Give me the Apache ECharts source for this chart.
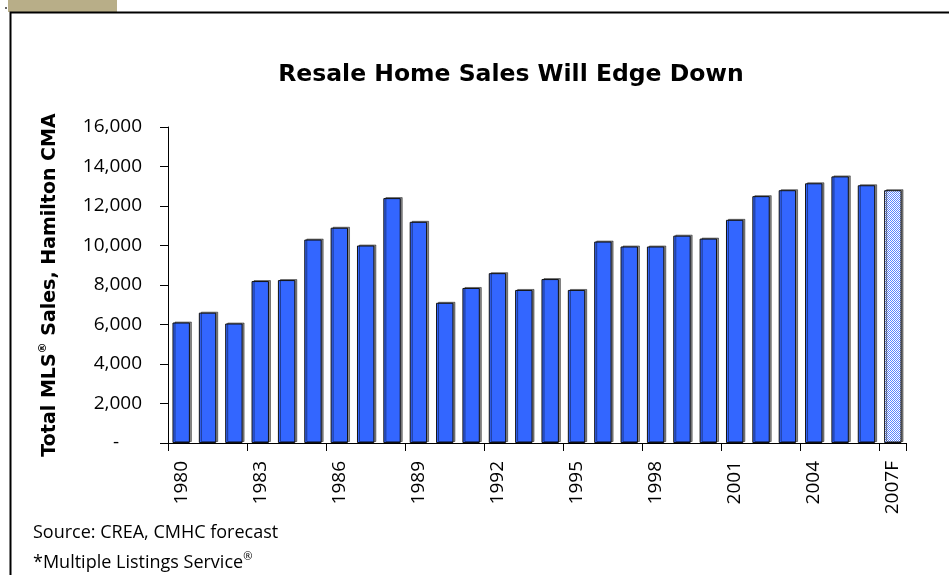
<!DOCTYPE html>
<html>
<head>
<meta charset="utf-8">
<script src="https://cdn.jsdelivr.net/npm/echarts@6/dist/echarts.min.js"></script>
<style>
html,body{margin:0;padding:0;background:#fff;}
#chart{width:949px;height:575px;}
</style>
</head>
<body>
<div id="chart"></div>
<script>
var years = ['1980','1981','1982','1983','1984','1985','1986','1987','1988','1989','1990','1991','1992','1993','1994','1995','1996','1997','1998','1999','2000','2001','2002','2003','2004','2005','2006','2007F'];
var sales = [6100,6600,6050,8200,8250,10300,10900,10000,12400,11200,7100,7850,8600,7750,8300,7750,10200,9950,9950,10500,10350,11300,12500,12800,13150,13500,13050,12800];
var yTicks = [0,2000,4000,6000,8000,10000,12000,14000,16000];
var forecastLabel = '2007F';
var titleText = 'Resale Home Sales Will Edge Down';
var sourceLines = ['Source: CREA, CMHC forecast', '*Multiple Listings Service'];

var FONT = '"Open Sans", Lato, sans-serif';
var BOLD = '"DejaVu Sans", "Open Sans", sans-serif';

// checker pattern for forecast bar
var pc = document.createElement('canvas');
pc.width = 2; pc.height = 2;
var pctx = pc.getContext('2d');
pctx.fillStyle = '#ffffff'; pctx.fillRect(0,0,2,2);
pctx.fillStyle = '#5b84ff'; pctx.fillRect(0,0,1,1); pctx.fillRect(1,1,1,1);

var barData = sales.map(function (v, i) {
  if (years[i] === forecastLabel) {
    return { value: v, itemStyle: { color: { image: pc, repeat: 'repeat' }, borderColor: '#111' } };
  }
  return v;
});

var chart = echarts.init(document.getElementById('chart'), null, {renderer: 'canvas'});
chart.setOption({
  animation: false,
  backgroundColor: '#fff',
  title: {
    text: titleText,
    left: 506, top: 58, textAlign: 'center',
    textStyle: { fontFamily: BOLD, fontWeight: 'bold', fontSize: 23.5, color: '#000' }
  },
  grid: { left: 168, right: 43, top: 127, bottom: 132, containLabel: false },
  xAxis: {
    type: 'category',
    data: years,
    boundaryGap: true,
    axisLine: { lineStyle: { color: '#000', width: 1 } },
    axisTick: { show: true, interval: 2, length: 8, lineStyle: { color: '#000' } },
    axisLabel: { interval: 2, rotate: 90, margin: 18, fontFamily: FONT, fontSize: 19, color: '#000' }
  },
  yAxis: {
    type: 'value',
    min: yTicks[0], max: yTicks[yTicks.length-1], interval: 2000,
    splitLine: { show: false },
    axisLine: { show: true, lineStyle: { color: '#000', width: 1 } },
    axisTick: { show: true, length: 8, lineStyle: { color: '#000' } },
    axisLabel: {
      margin: 26, fontFamily: FONT, fontSize: 19, color: '#000',
      formatter: function (v) { return v === 0 ? '{z|-}' : v.toLocaleString('en-US'); },
      rich: { z: { fontFamily: FONT, fontSize: 19, color: '#000', padding: [0, 23, 0, 0] } }
    },
    name: '{n|Total MLS}{s|®}{n| Sales, Hamilton CMA}',
    nameLocation: 'middle',
    nameGap: 106,
    nameTextStyle: {
      rich: {
        n: { fontFamily: BOLD, fontWeight: 'bold', fontSize: 19, color: '#000', lineHeight: 24 },
        s: { fontFamily: BOLD, fontWeight: 'bold', fontSize: 11, color: '#000', verticalAlign: 'top', lineHeight: 24 }
      }
    }
  },
  series: [{
    type: 'bar',
    data: barData,
    barCategoryGap: '34%',
    itemStyle: {
      color: '#3366ff',
      borderColor: '#111',
      borderWidth: 1,
      shadowColor: 'rgba(0,0,0,0.45)',
      shadowOffsetX: 2,
      shadowOffsetY: -1,
      shadowBlur: 0
    }
  }],
  graphic: [
    { type: 'rect', shape: { x: 8, y: 0, width: 109, height: 12 }, style: { fill: '#b8ae88' }, silent: true },
    { type: 'rect', shape: { x: 5, y: 7, width: 2, height: 2 }, style: { fill: '#666' }, silent: true },
    { type: 'rect', shape: { x: 10.5, y: 12.5, width: 1200, height: 1200 }, style: { fill: 'none', stroke: '#000', lineWidth: 2 }, silent: true },
    { type: 'text', left: 33, top: 524, style: { text: sourceLines[0], fontFamily: FONT, fontSize: 18, fill: '#000' } },
    { type: 'text', left: 33, top: 551, style: {
        text: '{n|' + sourceLines[1] + '}{s|®}',
        rich: {
          n: { fontFamily: FONT, fontSize: 18, fill: '#000', lineHeight: 24 },
          s: { fontFamily: FONT, fontSize: 11, fill: '#000', verticalAlign: 'top', lineHeight: 24 }
        }
      } }
  ]
});
</script>
</body>
</html>
